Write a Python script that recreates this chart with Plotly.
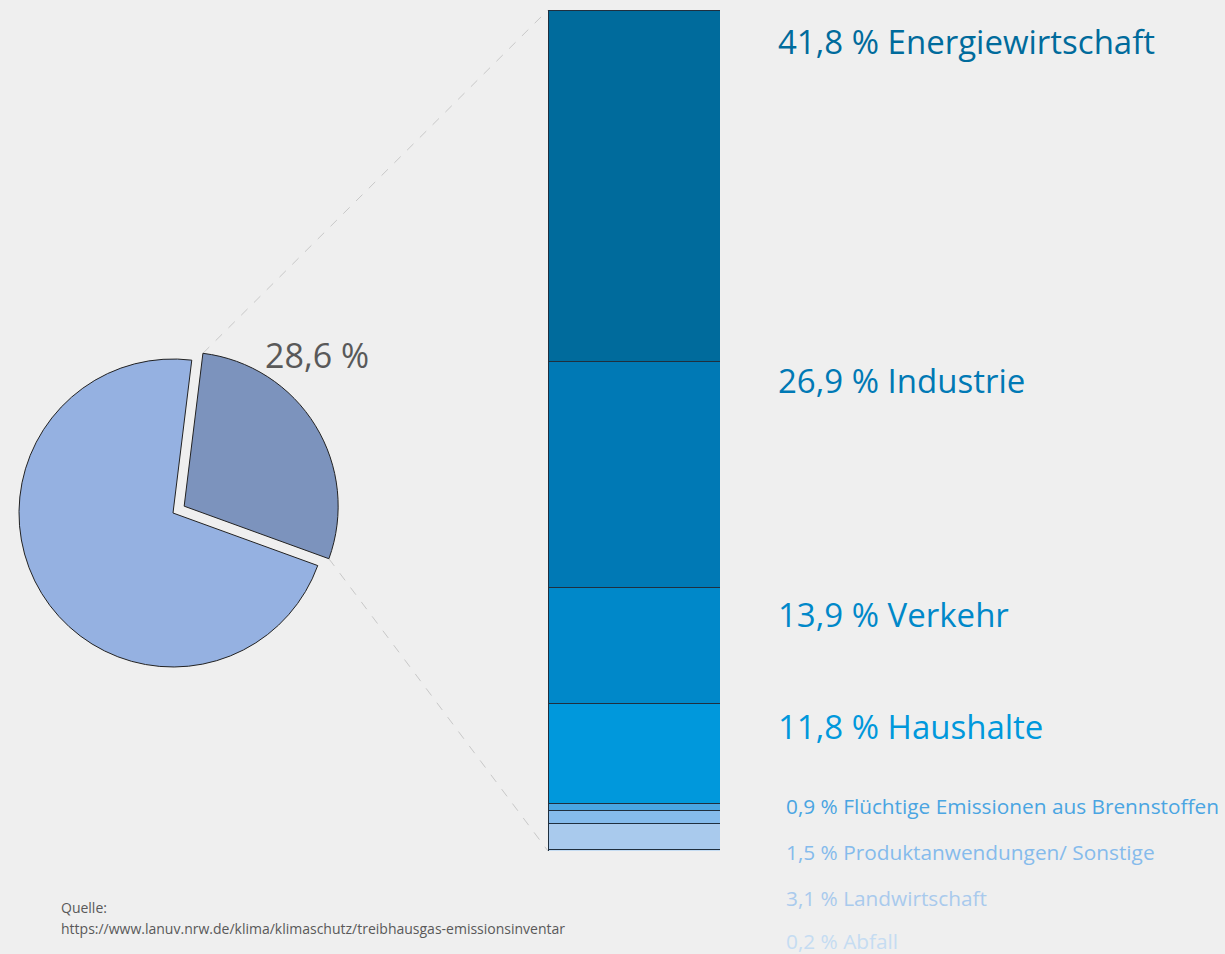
import plotly.graph_objects as go
import math

# ---- data ----
pie_labels = ["Anteil", "Rest"]
pie_values = [28.6, 71.4]
pie_text = "28,6 %"

sectors = ["Energiewirtschaft", "Industrie", "Verkehr", "Haushalte",
           "Flüchtige Emissionen aus Brennstoffen", "Produktanwendungen/ Sonstige",
           "Landwirtschaft", "Abfall"]
shares = [41.8, 26.9, 13.9, 11.8, 0.9, 1.5, 3.1, 0.2]
share_text = ["41,8", "26,9", "13,9", "11,8", "0,9", "1,5", "3,1", "0,2"]

source_lines = ["Quelle:", "https://www.lanuv.nrw.de/klima/klimaschutz/treibhausgas-emissionsinventar"]

# ---- styles ----
W, H = 1225, 954
bg = "#efefef"
bar_colors = ["#006b9c", "#0079b5", "#0088c9", "#0098dc", "#4aa5e2", "#85bbec", "#a9caed", "#c5dcf2"]
pie_colors = ["#7c93bd", "#95b1e1"]
font_family = "Open Sans"

# pixel layout
pie_cx, pie_cy, pie_r, pull = 173, 513, 154, 0.085
rotation = 7
bar_x0, bar_x1, bar_top, bar_bot = 548, 720, 10, 851
label_y = [42, 380, 614, 726, 806, 852, 898, 941]
label_x = [776, 776, 776, 776, 784, 784, 784, 784]
label_size = [33, 33, 33, 33, 20.8, 20.8, 20.8, 20.8]

def px(x):
    return x / W

def py(y):
    return 1 - y / H

fig = go.Figure()

box = pie_r * (1 + pull)
fig.add_trace(go.Pie(
    labels=pie_labels, values=pie_values, sort=False, direction="clockwise",
    rotation=rotation, pull=[pull, 0], textinfo="none", hoverinfo="label+percent",
    marker=dict(colors=pie_colors, line=dict(color="#222222", width=1)),
    domain=dict(x=[px(pie_cx - box), px(pie_cx + box)], y=[py(pie_cy + box), py(pie_cy - box)]),
    showlegend=False,
))

total = sum(shares)
for i in reversed(range(len(sectors))):
    fig.add_trace(go.Bar(
        x=[0], y=[shares[i]], name=sectors[i], width=[1],
        marker=dict(color=bar_colors[i], line=dict(color="#1f2f3f", width=1)),
        showlegend=False, hovertemplate=sectors[i] + ": " + share_text[i] + " %<extra></extra>",
    ))

for i in range(len(sectors)):
    fig.add_annotation(
        x=px(label_x[i]), y=py(label_y[i]), xref="paper", yref="paper",
        xanchor="left", yanchor="middle", showarrow=False,
        text=share_text[i] + " % " + sectors[i],
        font=dict(family=font_family, size=label_size[i], color=bar_colors[i]),
    )

# pie label
fig.add_annotation(x=px(263), y=py(355), xref="paper", yref="paper", xanchor="left", yanchor="middle",
                   showarrow=False, text=pie_text,
                   font=dict(family=font_family, size=34, color="#595959"))

# connector lines from pulled slice to bar
frac = pie_values[0] / sum(pie_values)
a0 = math.radians(rotation)
a1 = math.radians(rotation + 360 * frac)
mid = (a0 + a1) / 2
ox = pie_cx + pull * pie_r * math.sin(mid)
oy = pie_cy - pull * pie_r * math.cos(mid)
p0 = (ox + pie_r * math.sin(a0), oy - pie_r * math.cos(a0))
p1 = (ox + pie_r * math.sin(a1), oy - pie_r * math.cos(a1))
for (sx, sy), (ex, ey) in [(p0, (bar_x0, bar_top)), (p1, (bar_x0, bar_bot))]:
    fig.add_shape(type="line", xref="paper", yref="paper", x0=px(sx), y0=py(sy), x1=px(ex), y1=py(ey),
                  line=dict(color="#c8c8c8", width=1, dash="dash"), layer="below")

for k, t in enumerate(source_lines):
    fig.add_annotation(x=px(59), y=py(907 + 21 * k), xref="paper", yref="paper", xanchor="left",
                       yanchor="middle", showarrow=False, text=t,
                       font=dict(family=font_family, size=14, color="#595959"))

fig.update_layout(
    width=W, height=H, margin=dict(l=0, r=0, t=0, b=0),
    paper_bgcolor=bg, plot_bgcolor="rgba(0,0,0,0)", barmode="stack",
    xaxis=dict(domain=[px(bar_x0), px(bar_x1)], range=[-0.5, 0.5], visible=False, fixedrange=True),
    yaxis=dict(domain=[py(bar_bot), py(bar_top)], range=[0, total], visible=False, fixedrange=True),
)

fig.write_html(
    "out.html",
    config={"displayModeBar": False},
    post_script="document.body.style.margin='0';document.body.style.overflow='hidden';"
                "document.body.style.background='#efefef';",
)
